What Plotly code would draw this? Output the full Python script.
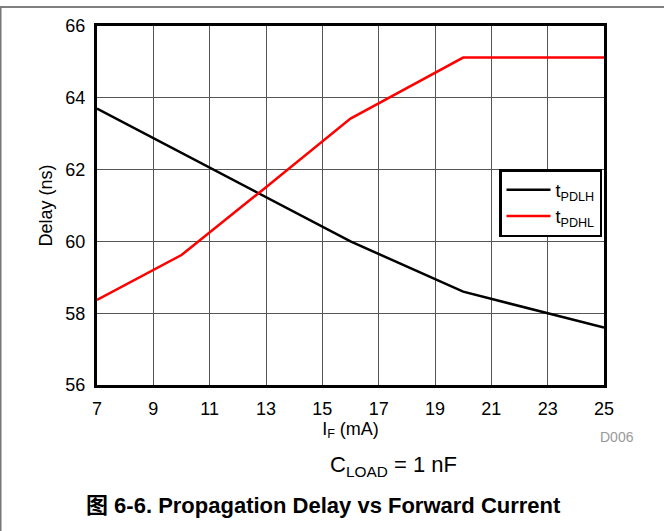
import plotly.graph_objects as go

# Forward current (mA) and propagation delays (ns)
forward_current = [7, 10, 13, 16, 20, 25]
t_pdlh = [63.70, 62.47, 61.23, 60.00, 58.60, 57.60]
t_pdhl = [58.37, 59.62, 61.51, 63.42, 65.12, 65.12]

x_ticks = [7, 9, 11, 13, 15, 17, 19, 21, 23, 25]
y_ticks = [56, 58, 60, 62, 64, 66]

FONT = "Liberation Sans, Arial, Noto Sans CJK SC, sans-serif"

W, H = 664, 531
L, R, T, B = 97, 60, 26, 146
PW, PH = W - L - R, H - T - B


def px_x(px):
    return (px - L) / PW


def px_y(py):
    return (H - B - py) / PH


fig = go.Figure()
fig.add_trace(go.Scatter(
    x=forward_current, y=t_pdlh, mode="lines",
    line=dict(color="black", width=2.5),
    name="t<sub>PDLH</sub>",
))
fig.add_trace(go.Scatter(
    x=forward_current, y=t_pdhl, mode="lines",
    line=dict(color="#ff0000", width=2.5),
    name="t<sub>PDHL</sub>",
))

axis_common = dict(
    showgrid=True, gridcolor="#555555", gridwidth=1,
    showline=True, linecolor="black", linewidth=3, mirror=True,
    zeroline=False, ticks="",
    tickfont=dict(family=FONT, size=18, color="black"),
)

fig.update_xaxes(
    range=[7, 25], tickvals=x_ticks, ticktext=[str(v) for v in x_ticks],
    ticklabelstandoff=5,
    title=dict(text="I<sub>F</sub> (mA)", font=dict(family=FONT, size=18, color="black"), standoff=2),
    **axis_common,
)
fig.update_yaxes(
    range=[56, 66], tickvals=y_ticks, ticktext=[str(v) for v in y_ticks],
    ticklabelstandoff=5,
    title=dict(text="Delay (ns)", font=dict(family=FONT, size=18, color="black"), standoff=9),
    **axis_common,
)


def note(text, px, py, size, color="black"):
    return dict(text=text, x=px_x(px), y=px_y(py), xref="paper", yref="paper",
                xanchor="center", yanchor="middle", showarrow=False,
                font=dict(family=FONT, size=size, color=color))


fig.update_layout(
    width=W, height=H,
    margin=dict(l=L, r=R, t=T, b=B),
    paper_bgcolor="white", plot_bgcolor="white",
    showlegend=True,
    legend=dict(
        x=px_x(499), y=px_y(169), xanchor="left", yanchor="top",
        bgcolor="white", bordercolor="black", borderwidth=2.5,
        font=dict(family=FONT, size=18, color="black"),
        tracegroupgap=0, itemwidth=44,
    ),
    annotations=[
        note("D006", 617, 437, 14, "#999999"),
        note("C<sub>LOAD</sub> = 1 nF", 393, 466, 22),
        note("<b>图 6-6. Propagation Delay vs Forward Current</b>", 323, 505, 22),
    ],
    shapes=[
        dict(type="line", xref="paper", yref="paper",
             x0=px_x(0), x1=px_x(W), y0=px_y(7), y1=px_y(7),
             line=dict(color="#555555", width=1.5)),
        dict(type="line", xref="paper", yref="paper",
             x0=px_x(0.75), x1=px_x(0.75), y0=px_y(7), y1=px_y(H),
             line=dict(color="#777777", width=1.5)),
    ],
)

fig.write_html("out.html")
